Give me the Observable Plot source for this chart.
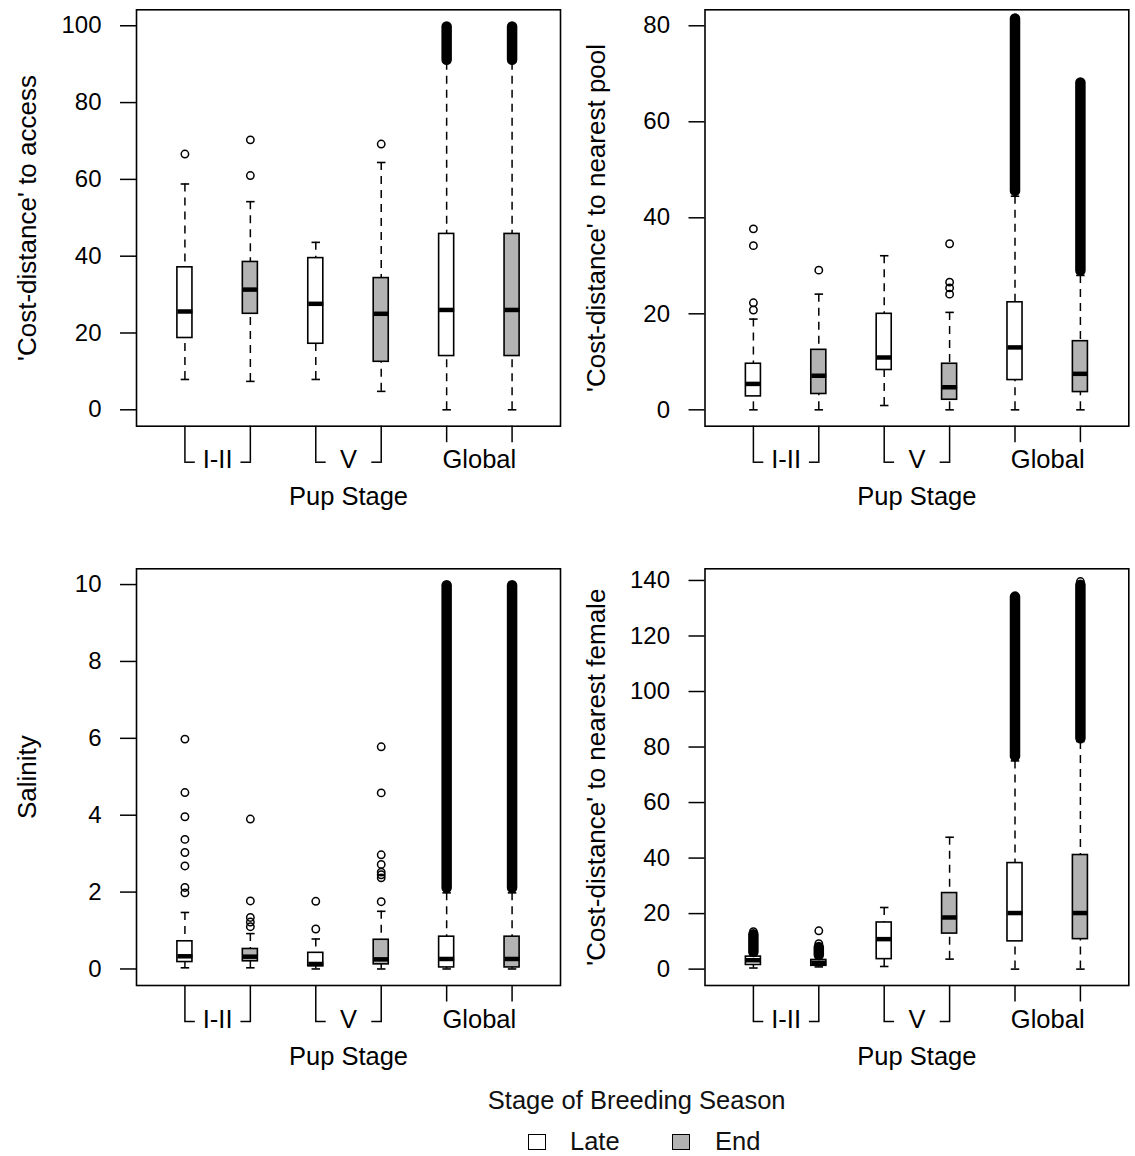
<!DOCTYPE html>
<html><head><meta charset="utf-8">
<script src="https://cdn.jsdelivr.net/npm/d3@7"></script>
<script src="https://cdn.jsdelivr.net/npm/@observablehq/plot@0.6"></script>
<style>
html,body{margin:0;padding:0;background:#fff;}
#wrap{position:relative;width:1135px;height:1156px;font-family:"Liberation Sans",Arial,sans-serif;color:#000;overflow:hidden;}
.panel{position:absolute;}
.lg{position:absolute;font-size:25.5px;line-height:30px;white-space:nowrap;color:#111;}
.sw{position:absolute;box-sizing:border-box;border:1.5px solid #000;}
</style></head>
<body><div id="wrap"></div>
<script>
// ---------- data ----------
const positions = [1, 2, 3, 4, 5, 6];
const pupStages = ["I-II", "I-II", "V", "V", "Global", "Global"];
const seasons = ["Late", "End", "Late", "End", "Late", "End"];
const stageLabels = ["I-II", "V", "Global"];
const seasonLabels = ["Late", "End"];
const xTitle = "Pup Stage";
const legendTitle = "Stage of Breeding Season";

// [lower whisker, Q1, median, Q3, upper whisker]
const accessStats = [[7.9,18.7,25.6,37.1,58.8],[7.4,25.0,31.3,38.5,54.2],[7.9,17.2,27.6,39.5,43.6],[4.8,12.5,25.0,34.3,64.4],[0,14.0,26.0,45.8,90.5],[0,14.0,26.0,45.8,90.5]];
const accessOutliers = [[66.6],[61.0,70.3],[],[69.2],[],[]];
const accessDense = [null,null,null,null,[91.0,99.7],[91.0,99.7]];
const accessTicks = [0,20,40,60,80,100];

const poolStats = [[0,2.8,5.4,9.6,18.9],[0,3.3,7.1,12.5,24.1],[0.9,8.3,10.9,20.0,32.1],[0,2.1,4.7,9.6,20.3],[0,6.2,13.0,22.4,44.5],[0,3.7,7.5,14.3,28.0]];
const poolOutliers = [[20.8,22.3,34.2,37.7],[29.1],[],[24.1,25.4,26.6,34.6],[],[]];
const poolDense = [null,null,null,null,[45.5,81.4],[28.9,68.1]];
const poolTicks = [0,20,40,60,80];

const salinityStats = [[0.03,0.18,0.33,0.72,1.47],[0.03,0.2,0.32,0.52,0.92],[0,0.07,0.13,0.42,0.78],[0,0.12,0.25,0.76,1.5],[0,0.04,0.26,0.84,1.98],[0,0.04,0.26,0.84,1.98]];
const salinityOutliers = [[1.98,2.12,2.68,3.03,3.37,3.96,4.59,5.98],[1.1,1.22,1.34,1.77,3.9],[1.04,1.76],[1.75,2.37,2.45,2.52,2.72,2.97,4.58,5.78],[],[]];
const salinityDense = [null,null,null,null,[2.1,9.97],[2.1,9.97]];
const salinityTicks = [0,2,4,6,8,10];

const femaleStats = [[0.4,1.5,3.2,4.5,5.2],[0.8,1.2,2.2,3.3,4.4],[0.95,3.6,10.8,16.8,22.2],[3.6,12.8,18.6,27.4,47.5],[0,10.0,20.2,38.2,75.0],[0,10.8,20.2,41.1,82.0]];
const femaleOutliers = [[13.5],[9.2,13.8],[],[],[],[139.6]];
const femaleDense = [[6.0,12.4],[4.9,7.8],null,null,[76.5,134.0],[83.0,138.3]];
const femaleTicks = [0,20,40,60,80,100,120,140];

// ---------- styling ----------
const FONT = "'Liberation Sans', Arial, sans-serif";
const BOX_HW = 0.115, CAP_HW = 0.065, GAP = 0.14;
const FILL = {Late: "#ffffff", End: "#b3b3b3"};

function panel(cfg) {
  const rows = positions.map((p, i) => ({pos: p, stage: pupStages[i], season: seasons[i],
    low: cfg.stats[i][0], q1: cfg.stats[i][1], med: cfg.stats[i][2], q3: cfg.stats[i][3], high: cfg.stats[i][4]}));
  const outs = positions.flatMap((p, i) => cfg.outliers[i].map(v => ({pos: p, value: v})));
  const dense = positions.flatMap((p, i) => cfg.dense[i] ? [{pos: p, lo: cfg.dense[i][0], hi: cfg.dense[i][1]}] : []);
  const centers = stageLabels.map(s => ({stage: s, x: d3.mean(positions.filter((p, i) => pupStages[i] === s))}));
  const bracketed = positions.filter((p, i) => pupStages[i] !== "Global");
  const plain = positions.filter((p, i) => pupStages[i] === "Global");
  const segs = stageLabels.filter(s => s !== "Global").flatMap(s => {
    const ps = positions.filter((p, i) => pupStages[i] === s);
    const a = d3.min(ps), b = d3.max(ps);
    return [{x1: a, x2: a + GAP}, {x1: b - GAP, x2: b}];
  });
  const y0 = cfg.yDomain[0];
  return Plot.plot({
    width: cfg.width, height: cfg.height,
    marginLeft: cfg.mL, marginRight: cfg.mR, marginTop: cfg.mT, marginBottom: cfg.mB,
    style: {fontFamily: FONT, background: "transparent", color: "#000", overflow: "visible"},
    x: {domain: [0.26, 6.74]},
    y: {domain: cfg.yDomain},
    marks: [
      Plot.axisY({ticks: cfg.yTicks, tickSize: 16, tickPadding: 19, fontSize: 24, strokeWidth: 1.5, label: null}),
      Plot.axisX({ticks: bracketed, tickSize: 36, tickFormat: () => "", strokeWidth: 1.5, label: null}),
      Plot.axisX({ticks: plain, tickSize: 16.5, tickFormat: () => "", strokeWidth: 1.5, label: null}),
      Plot.link(segs, {x1: "x1", x2: "x2", y1: () => y0, y2: () => y0, dy: 36, strokeWidth: 1.5, stroke: "#000", strokeLinecap: "square"}),
      Plot.axisX({ticks: centers.map(d => d.x), tickSize: 0, tickPadding: 24,
        tickFormat: v => centers.find(c => c.x === v).stage, fontSize: 25.5, label: null}),
      Plot.text([xTitle], {frameAnchor: "bottom", lineAnchor: "middle", textAnchor: "middle", dy: 71, fontSize: 25.5}),
      Plot.text([cfg.yLabel], {frameAnchor: "left", textAnchor: "middle", lineAnchor: "middle", dx: cfg.labelDx, rotate: -90, fontSize: 26}),
      // whiskers
      Plot.ruleX(rows, {x: "pos", y1: "high", y2: "q3", stroke: "#000", strokeWidth: 1.5, strokeDasharray: "8,6"}),
      Plot.ruleX(rows, {x: "pos", y1: "low", y2: "q1", stroke: "#000", strokeWidth: 1.5, strokeDasharray: "8,6"}),
      Plot.link(rows, {x1: d => d.pos - CAP_HW, x2: d => d.pos + CAP_HW, y1: "high", y2: "high", stroke: "#000", strokeWidth: 1.6}),
      Plot.link(rows, {x1: d => d.pos - CAP_HW, x2: d => d.pos + CAP_HW, y1: "low", y2: "low", stroke: "#000", strokeWidth: 1.6}),
      // boxes
      Plot.rect(rows, {x1: d => d.pos - BOX_HW, x2: d => d.pos + BOX_HW, y1: "q1", y2: "q3",
        fill: d => FILL[d.season], stroke: "#000", strokeWidth: 1.6}),
      Plot.link(rows, {x1: d => d.pos - BOX_HW, x2: d => d.pos + BOX_HW, y1: "med", y2: "med", stroke: "#000", strokeWidth: 4.5}),
      // outliers
      Plot.ruleX(dense, {x: "pos", y1: "lo", y2: "hi", stroke: "#000", strokeWidth: 10.5, strokeLinecap: "round"}),
      Plot.dot(outs, {x: "pos", y: "value", r: 3.7, stroke: "#000", strokeWidth: 1.5, fill: "none"}),
      Plot.frame({stroke: "#000", strokeWidth: 1.6})
    ]
  });
}

const wrap = document.getElementById("wrap");
const configs = [
  {left: 0, top: 0, width: 565, height: 530, mL: 136, mR: 5, mT: 9.3, mB: 104.3, yDomain: [-4.27, 104.16],
   yTicks: accessTicks, yLabel: "'Cost-distance' to access", labelDx: -109,
   stats: accessStats, outliers: accessOutliers, dense: accessDense},
  {left: 565, top: 0, width: 570, height: 530, mL: 139.5, mR: 6.7, mT: 9.3, mB: 104.3, yDomain: [-3.41, 83.33],
   yTicks: poolTicks, yLabel: "'Cost-distance' to nearest pool", labelDx: -108.6,
   stats: poolStats, outliers: poolOutliers, dense: poolDense},
  {left: 0, top: 555, width: 565, height: 520, mL: 136, mR: 5, mT: 13.3, mB: 90, yDomain: [-0.43, 10.41],
   yTicks: salinityTicks, yLabel: "Salinity", labelDx: -109,
   stats: salinityStats, outliers: salinityOutliers, dense: salinityDense},
  {left: 565, top: 555, width: 570, height: 520, mL: 139.5, mR: 6.7, mT: 13.3, mB: 90, yDomain: [-5.9, 144.2],
   yTicks: femaleTicks, yLabel: "'Cost-distance' to nearest female", labelDx: -108.6,
   stats: femaleStats, outliers: femaleOutliers, dense: femaleDense}
];
for (const c of configs) {
  const div = document.createElement("div");
  div.className = "panel";
  div.style.left = c.left + "px";
  div.style.top = c.top + "px";
  div.appendChild(panel(c));
  wrap.appendChild(div);
}

// legend
function addEl(cls, css, text) {
  const e = document.createElement("div");
  e.className = cls;
  Object.assign(e.style, css);
  if (text) e.textContent = text;
  wrap.appendChild(e);
}
addEl("lg", {left: "436.7px", width: "400px", textAlign: "center", top: "1085px"}, legendTitle);
const swX = [528, 672], txtX = [570, 715];
seasonLabels.forEach((s, i) => {
  addEl("sw", {left: swX[i] + "px", top: "1134px", width: "18px", height: "16px", background: FILL[s]});
  addEl("lg", {left: txtX[i] + "px", top: "1126px"}, s);
});
</script>
</body></html>
